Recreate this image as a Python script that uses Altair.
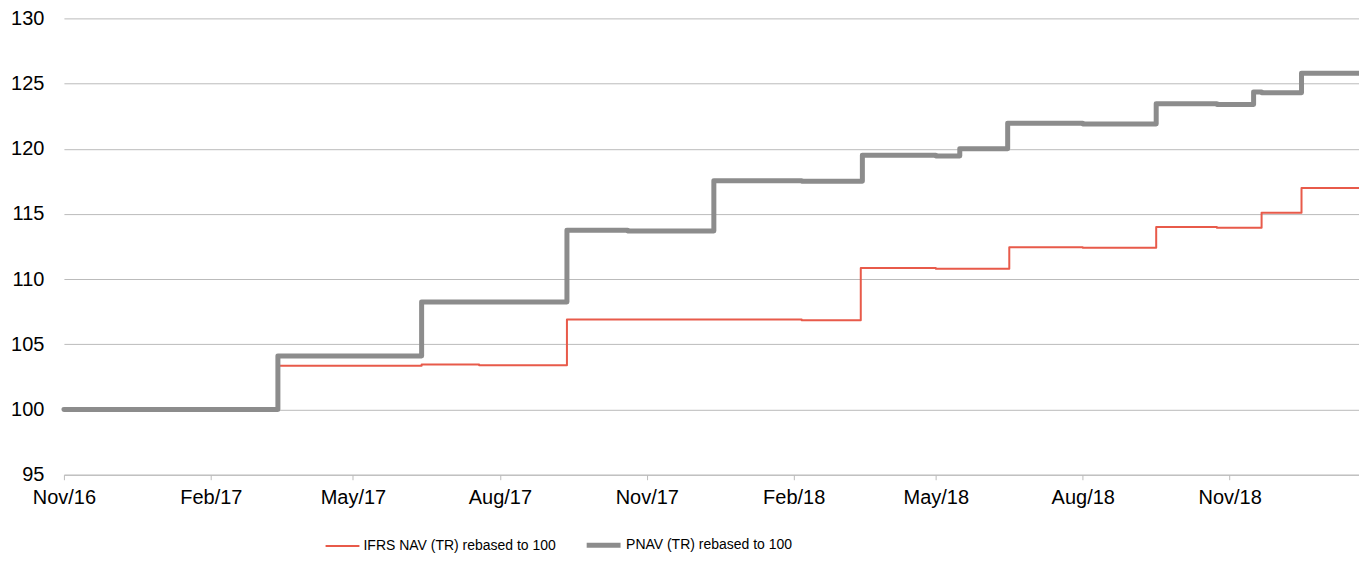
import altair as alt
import pandas as pd

# PNAV (TR) rebased to 100 - step dates and values
pnav_dates = ["2016-11-01", "2017-03-15", "2017-06-13", "2017-09-12", "2017-10-20",
              "2017-12-13", "2018-02-06", "2018-03-16", "2018-05-01", "2018-05-16",
              "2018-06-15", "2018-08-01", "2018-09-16", "2018-10-24", "2018-11-16",
              "2018-11-21", "2018-12-16", "2019-01-21"]
pnav_vals = [100.0, 104.1, 108.25, 113.75, 113.7,
             117.55, 117.5, 119.5, 119.45, 120.0,
             121.95, 121.9, 123.45, 123.4, 124.35,
             124.3, 125.8, 125.8]

# IFRS NAV (TR) rebased to 100
ifrs_dates = ["2016-11-01", "2017-03-15", "2017-06-13", "2017-07-19", "2017-09-12",
              "2018-02-06", "2018-03-15", "2018-05-01", "2018-06-16", "2018-08-01",
              "2018-09-16", "2018-10-24", "2018-11-21", "2018-12-16", "2019-01-21"]
ifrs_vals = [100.0, 103.35, 103.45, 103.4, 106.9,
             106.85, 110.85, 110.8, 112.45, 112.4,
             114.0, 113.95, 115.1, 117.0, 117.0]

s_ifrs = "IFRS NAV (TR) rebased to 100"
s_pnav = "PNAV (TR) rebased to 100"

df = pd.concat([
    pd.DataFrame({"date": pd.to_datetime(ifrs_dates), "value": ifrs_vals, "series": s_ifrs}),
    pd.DataFrame({"date": pd.to_datetime(pnav_dates), "value": pnav_vals, "series": s_pnav}),
])

tick_dates = ["2016-11-01", "2017-02-01", "2017-05-01", "2017-08-01", "2017-11-01",
              "2018-02-01", "2018-05-01", "2018-08-01", "2018-11-01"]
tick_vals = [alt.DateTime(year=int(d[:4]), month=int(d[5:7]), date=1) for d in tick_dates]

font = "Liberation Sans"

legend_cfg = dict(title=None, orient="none", direction="horizontal",
                  legendX=261, legendY=508, symbolType="stroke",
                  symbolSize=1150, labelFontSize=14, labelFont=font,
                  labelColor="#000000", columnPadding=20, labelOffset=3,
                  labelLimit=400)

chart = alt.Chart(df).mark_line(interpolate="step-after", strokeCap="round", strokeJoin="round").encode(
    x=alt.X("date:T",
            scale=alt.Scale(domain=[alt.DateTime(year=2016, month=11, date=1),
                                    alt.DateTime(year=2019, month=1, date=21)]),
            axis=alt.Axis(title=None, format="%b/%y", values=tick_vals, grid=False,
                          domainColor="#BBBBBB", tickColor="#BBBBBB", tickSize=5,
                          labelFontSize=20, labelColor="#000000", labelPadding=8,
                          labelFont=font, labelFlush=False, labelAlign="center",
                          labelOverlap=False)),
    y=alt.Y("value:Q",
            scale=alt.Scale(domain=[95, 130], nice=False, zero=False),
            axis=alt.Axis(title=None, values=[95, 100, 105, 110, 115, 120, 125, 130],
                          domain=False, ticks=False, gridColor="#BBBBBB",
                          labelFontSize=20, labelColor="#000000", labelPadding=20,
                          labelFont=font, labelFlush=False)),
    color=alt.Color("series:N",
                    scale=alt.Scale(domain=[s_ifrs, s_pnav], range=["#E85A4A", "#8C8C8C"]),
                    legend=alt.Legend(**legend_cfg)),
    strokeWidth=alt.StrokeWidth("series:N",
                                scale=alt.Scale(domain=[s_ifrs, s_pnav], range=[2, 5]),
                                legend=alt.Legend(**legend_cfg)),
    order=alt.Order("series:N"),
).properties(
    width=1297, height=457,
    autosize=alt.AutoSizeParams(type="none"),
    padding={"left": 56, "top": 10, "right": 0, "bottom": 79},
).configure_view(stroke=None)

chart.save("out.html", embed_options={"renderer": "svg", "actions": False})
